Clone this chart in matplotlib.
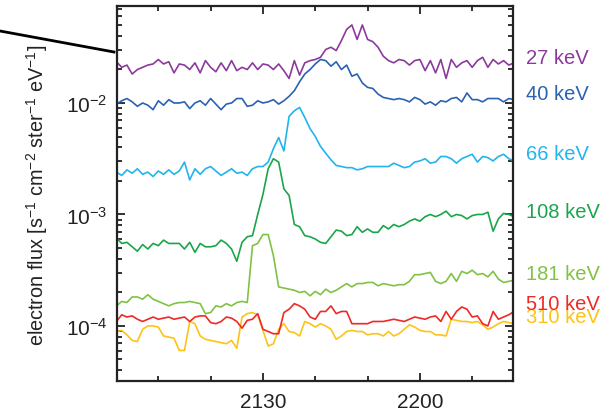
import numpy as np
import matplotlib
matplotlib.use("Agg")
import matplotlib.pyplot as plt
from matplotlib.ticker import FixedLocator, FixedFormatter, LogLocator, NullFormatter
from matplotlib.lines import Line2D

plt.rcParams['font.family'] = ['Liberation Sans', 'DejaVu Sans']
plt.rcParams['mathtext.fontset'] = 'custom'
plt.rcParams['mathtext.rm'] = 'Liberation Sans'
plt.rcParams['mathtext.it'] = 'Liberation Sans:italic'
plt.rcParams['mathtext.default'] = 'regular'

# ---- data ----
# sample times, minutes after 21:00 UT
time_min = list(range(2, 79))

# log10 electron flux per channel
log_flux_27 = [-1.63, -1.68, -1.66, -1.74, -1.70, -1.68, -1.66, -1.65, -1.61, -1.65,
               -1.63, -1.73, -1.65, -1.66, -1.70, -1.64, -1.73, -1.62, -1.68, -1.72,
               -1.64, -1.71, -1.62, -1.71, -1.68, -1.70, -1.64, -1.70, -1.65, -1.66,
               -1.70, -1.65, -1.71, -1.78, -1.62, -1.75, -1.64, -1.62, -1.61, -1.59,
               -1.52, -1.50, -1.53, -1.44, -1.34, -1.30, -1.43, -1.30, -1.43, -1.45,
               -1.50, -1.58, -1.62, -1.64, -1.61, -1.62, -1.66, -1.62, -1.61, -1.71,
               -1.62, -1.73, -1.61, -1.78, -1.61, -1.68, -1.64, -1.62, -1.68, -1.62,
               -1.59, -1.68, -1.61, -1.65, -1.62, -1.66, -1.64]
log_flux_40 = [-2.01, -1.98, -1.96, -1.99, -2.03, -2.00, -2.02, -2.06, -1.98, -2.02,
               -1.97, -2.00, -2.00, -1.99, -2.05, -2.00, -1.98, -2.02, -1.96, -2.01,
               -2.06, -2.01, -2.00, -1.96, -1.96, -2.03, -2.02, -1.98, -2.00, -1.99,
               -1.97, -2.01, -1.98, -1.94, -1.89, -1.81, -1.74, -1.70, -1.65, -1.61,
               -1.62, -1.67, -1.63, -1.70, -1.66, -1.76, -1.74, -1.82, -1.86, -1.87,
               -1.92, -1.95, -1.96, -1.97, -1.96, -1.97, -1.99, -1.95, -1.97, -2.01,
               -1.99, -2.02, -1.98, -1.99, -1.96, -1.95, -1.99, -1.91, -1.97, -1.97,
               -1.99, -1.96, -1.96, -1.96, -1.99, -1.96, -1.97]
log_flux_66 = [-2.62, -2.65, -2.60, -2.63, -2.59, -2.64, -2.62, -2.66, -2.61, -2.64,
               -2.60, -2.64, -2.61, -2.53, -2.69, -2.59, -2.64, -2.59, -2.57, -2.61,
               -2.65, -2.62, -2.59, -2.63, -2.62, -2.65, -2.59, -2.57, -2.57, -2.53,
               -2.41, -2.31, -2.43, -2.12, -2.07, -2.04, -2.13, -2.23, -2.30, -2.39,
               -2.45, -2.51, -2.56, -2.57, -2.58, -2.58, -2.60, -2.59, -2.57, -2.57,
               -2.57, -2.57, -2.57, -2.54, -2.56, -2.58, -2.57, -2.53, -2.52, -2.50,
               -2.54, -2.53, -2.48, -2.48, -2.50, -2.54, -2.50, -2.48, -2.46, -2.53,
               -2.48, -2.49, -2.52, -2.48, -2.46, -2.50, -2.52]
log_flux_108 = [-3.21, -3.26, -3.25, -3.29, -3.33, -3.27, -3.31, -3.26, -3.28, -3.23,
                -3.26, -3.26, -3.26, -3.31, -3.25, -3.34, -3.26, -3.29, -3.29, -3.28,
                -3.23, -3.26, -3.31, -3.42, -3.25, -3.20, -3.19, -3.00, -2.82, -2.59,
                -2.50, -2.53, -2.77, -2.83, -3.09, -3.11, -3.19, -3.20, -3.22, -3.25,
                -3.26, -3.20, -3.14, -3.15, -3.19, -3.18, -3.11, -3.16, -3.13, -3.16,
                -3.16, -3.10, -3.13, -3.09, -3.11, -3.09, -3.06, -3.04, -3.06, -3.02,
                -3.00, -3.02, -3.00, -2.97, -3.02, -3.00, -3.01, -3.04, -3.01, -3.00,
                -3.00, -2.98, -3.15, -3.04, -2.99, -3.00, -3.02]
log_flux_181 = [-3.82, -3.78, -3.79, -3.74, -3.74, -3.76, -3.72, -3.76, -3.78, -3.80,
                -3.82, -3.80, -3.79, -3.79, -3.78, -3.79, -3.80, -3.89, -3.88, -3.82,
                -3.83, -3.80, -3.82, -3.79, -3.78, -3.79, -3.28, -3.26, -3.18, -3.18,
                -3.37, -3.65, -3.66, -3.67, -3.68, -3.70, -3.69, -3.73, -3.69, -3.72,
                -3.67, -3.70, -3.68, -3.65, -3.62, -3.65, -3.62, -3.62, -3.61, -3.61,
                -3.64, -3.62, -3.63, -3.64, -3.63, -3.63, -3.60, -3.54, -3.54, -3.53,
                -3.52, -3.60, -3.62, -3.60, -3.53, -3.60, -3.51, -3.53, -3.50, -3.54,
                -3.53, -3.56, -3.51, -3.58, -3.61, -3.60, -3.59]
log_flux_510 = [-3.96, -3.90, -3.92, -3.91, -3.94, -3.96, -3.94, -3.92, -3.94, -3.93,
                -3.92, -3.94, -3.93, -3.92, -3.96, -3.92, -3.91, -3.91, -3.97, -3.98,
                -3.96, -3.92, -3.93, -3.96, -4.02, -3.95, -3.94, -3.89, -4.03, -4.05,
                -4.07, -4.07, -3.88, -3.85, -3.80, -3.82, -3.85, -3.92, -3.94, -3.87,
                -3.87, -3.82, -3.89, -3.87, -3.87, -3.98, -3.98, -3.98, -3.98, -3.96,
                -3.96, -3.96, -3.95, -3.94, -3.95, -3.96, -3.94, -3.92, -3.93, -3.94,
                -3.92, -3.91, -3.96, -3.87, -3.94, -3.87, -3.83, -3.85, -3.92, -3.91,
                -3.98, -4.00, -3.87, -3.94, -3.92, -3.90, -3.87]
log_flux_310 = [-4.05, -4.04, -4.08, -4.13, -4.14, -4.03, -4.00, -4.00, -4.01, -4.09,
                -4.10, -4.11, -4.22, -4.22, -3.96, -3.98, -4.09, -4.12, -4.13, -4.14,
                -4.15, -4.16, -4.13, -4.20, -3.92, -3.89, -3.88, -3.90, -4.04, -4.18,
                -4.16, -4.03, -3.98, -4.05, -4.06, -4.09, -3.96, -3.98, -4.01, -3.98,
                -4.00, -4.03, -4.12, -4.09, -4.05, -4.04, -4.05, -4.05, -4.08, -4.07,
                -4.07, -4.09, -4.05, -4.09, -4.07, -4.03, -3.99, -4.01, -4.04, -4.05,
                -4.05, -4.08, -4.08, -4.09, -3.94, -3.95, -3.96, -3.96, -3.97, -3.96,
                -3.99, -4.03, -4.01, -3.98, -3.96, -3.97, -3.98]

channel_labels = ["27 keV", "40 keV", "66 keV", "108 keV", "181 keV", "310 keV", "510 keV"]
channel_series = [log_flux_27, log_flux_40, log_flux_66, log_flux_108,
                  log_flux_181, log_flux_310, log_flux_510]
channel_colors = ["#8B3A9B", "#2A62B2", "#22B4EE", "#1BA54B", "#80C243", "#FDC318", "#EE2A27"]

x_tick_pos = [30, 60]
x_tick_labels = ["2130", "2200"]
x_minor_pos = [10, 20, 40, 50, 70]

# ---- figure ----
fig = plt.figure(figsize=(6.12, 4.14), dpi=100)
ax = fig.add_axes([117/612, 1 - 382/414, (513-117)/612, (382-7)/414])

for vals, col in zip(channel_series, channel_colors):
    ax.plot(time_min, 10 ** np.array(vals), color=col, lw=1.2)

ax.set_yscale('log')
ax.set_xlim(2.1, 77.8)
ax.set_ylim(10 ** -4.494, 10 ** -1.13)

ax.xaxis.set_major_locator(FixedLocator(x_tick_pos))
ax.xaxis.set_major_formatter(FixedFormatter(x_tick_labels))
ax.xaxis.set_minor_locator(FixedLocator(x_minor_pos))
ax.yaxis.set_major_locator(LogLocator(base=10, numticks=10))
ax.yaxis.set_minor_locator(LogLocator(base=10, subs=np.arange(2, 10), numticks=20))
ax.yaxis.set_minor_formatter(NullFormatter())
ax.yaxis.set_major_formatter(matplotlib.ticker.FuncFormatter(
    lambda v, p: r"10$^{%d}$" % int(round(np.log10(v)))))

ax.tick_params(which='both', direction='in', top=True, right=True, width=1.3, colors='#222222')
ax.tick_params(which='major', length=6, labelsize=15, labelcolor='#222222')
ax.tick_params(which='minor', length=3.5)
ax.tick_params(axis='x', which='major', pad=8)
ax.tick_params(axis='y', which='major', pad=7)
for s in ax.spines.values():
    s.set_linewidth(1.6)
    s.set_color('#222222')

fig.text(37/612, 1 - 195/414,
         r"electron flux [s$^{-1}$ cm$^{-2}$ ster$^{-1}$ eV$^{-1}$]",
         rotation=90, ha='center', va='center', fontsize=14.3, color='#222222')

label_y_px = [58, 94, 154, 212, 275, 318, 304]
for lab, col, ypx in zip(channel_labels, channel_colors, label_y_px):
    fig.text(526/612, 1 - ypx/414, lab, color=col, fontsize=14.5, ha='left', va='center')

fig.add_artist(Line2D([0, 114/612], [1 - 32/414, 1 - 53/414],
                      transform=fig.transFigure, color='black', lw=2))

fig.savefig("out.png", dpi=100)
